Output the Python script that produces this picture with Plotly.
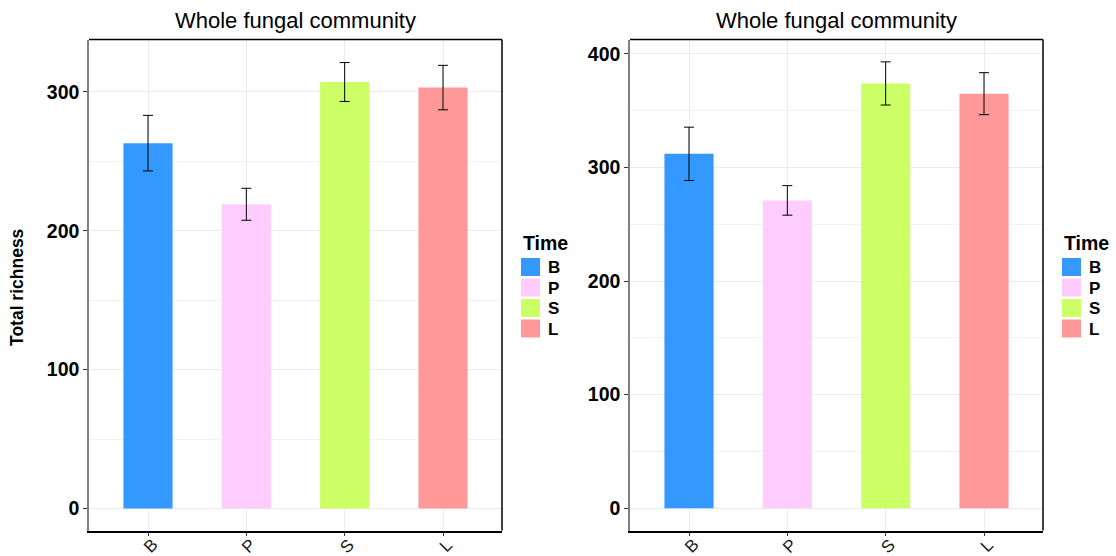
import plotly.graph_objects as go

# Sampling times and their colours
times = ["B", "P", "S", "L"]
colors = ["#3399FF", "#FFCCFF", "#CCFF66", "#FF9999"]

# Total richness (mean and standard error) for two datasets
richness_a = [263, 219, 307, 303]
err_a = [20, 11.5, 14, 16]
richness_b = [312, 271, 374, 365]
err_b = [23.5, 13, 19, 18.5]

panel_title = "Whole fungal community"
y_title = "Total richness"
legend_title = "Time"

FONT = "Liberation Sans, Arial, sans-serif"
W, H = 1116, 556

fig = go.Figure()

panels = [
    dict(vals=richness_a, errs=err_a, xa="x", ya="y", xdom=(89 / W, 502 / W),
         yrange=(-15.8, 337.6), legend_x=521 / W),
    dict(vals=richness_b, errs=err_b, xa="x2", ya="y2", xdom=(630 / W, 1043 / W),
         yrange=(-19.7, 412.7), legend_x=1062 / W),
]
ydom = (1 - 530.5 / H, 1 - 39.5 / H)

for p in panels:
    fig.add_trace(go.Bar(
        x=times, y=p["vals"], xaxis=p["xa"], yaxis=p["ya"],
        marker=dict(color=colors, line=dict(width=0)),
        width=0.5,
        error_y=dict(type="data", array=p["errs"], color="black",
                     thickness=1, width=5),
        showlegend=False,
    ))

axis_common = dict(
    showgrid=True, gridcolor="#EBEBEB", gridwidth=1, zeroline=False,
    ticks="outside", ticklen=4, tickcolor="#333333", automargin=False,
)

for i, p in enumerate(panels):
    sfx = "" if i == 0 else str(i + 1)
    fig.layout["xaxis" + sfx] = dict(
        axis_common, domain=p["xdom"], anchor="y" + sfx,
        categoryorder="array", categoryarray=times,
        range=[-0.6, 3.6], showticklabels=False,
        showline=True, linecolor="black", linewidth=2, mirror=False,
        ticklen=3,
    )
    fig.layout["yaxis" + sfx] = dict(
        axis_common, domain=ydom, anchor="x" + sfx,
        range=list(p["yrange"]), dtick=100, tick0=0,
        tickfont=dict(family=FONT, size=19.5, color="black", weight="bold"),
        showline=True, linecolor="#808080", linewidth=1.5,
        minor=dict(dtick=50, showgrid=True, gridcolor="#F2F2F2", ticks=""),
    )
    xd = "x" + sfx + " domain"
    yd = "y" + sfx + " domain"
    # rotated category labels under the axis
    for t in times:
        fig.add_annotation(text=t, xref="x" + sfx, yref="paper",
                           x=t, y=1 - 546 / H, xshift=2,
                           xanchor="center", yanchor="middle",
                           textangle=-45, showarrow=False,
                           font=dict(family=FONT, size=17, color="#1A1A1A"))
    # top and right panel borders
    fig.add_shape(type="line", xref=xd, yref=yd, x0=0, x1=1, y0=1, y1=1,
                  line=dict(color="black", width=1.5))
    fig.add_shape(type="line", xref=xd, yref=yd, x0=1, x1=1, y0=0, y1=1,
                  line=dict(color="black", width=1.5))
    # panel title
    fig.add_annotation(text=panel_title, xref=xd, yref="paper",
                       x=0.5, y=1 - 21 / H, xanchor="center", yanchor="middle",
                       showarrow=False,
                       font=dict(family=FONT, size=22, color="black"))
    # legend
    lx = p["legend_x"]
    fig.add_annotation(text="<b>" + legend_title + "</b>", xref="paper", yref="paper",
                       x=lx, y=1 - 243 / H, xanchor="left", yanchor="middle",
                       showarrow=False, font=dict(family=FONT, size=19.5, color="black"))
    for k, (t, c) in enumerate(zip(times, colors)):
        top = 258 + k * 20.5
        fig.add_shape(type="rect", xref="paper", yref="paper",
                      x0=lx, x1=lx + 19 / W, y0=1 - top / H, y1=1 - (top + 18) / H,
                      line=dict(width=0), fillcolor=c)
        fig.add_annotation(text="<b>" + t + "</b>", xref="paper", yref="paper",
                           x=lx + 25 / W, y=1 - (top + 9.5) / H,
                           xanchor="left", yanchor="middle", showarrow=False,
                           font=dict(family=FONT, size=17, color="black"))

fig.add_annotation(text="<b>" + y_title + "</b>", xref="paper", yref="paper",
                   x=17 / W, y=1 - 287 / H, xanchor="center", yanchor="middle",
                   textangle=-90, showarrow=False,
                   font=dict(family=FONT, size=17.5, color="black"))

fig.update_layout(
    width=W, height=H, margin=dict(l=0, r=0, t=0, b=0),
    plot_bgcolor="white", paper_bgcolor="white",
    bargap=0.5, showlegend=False,
)

fig.write_html("out.html")
